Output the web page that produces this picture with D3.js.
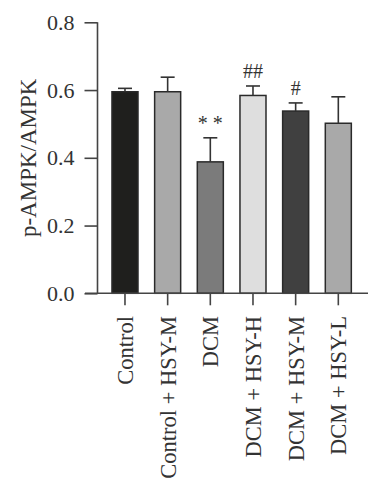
<!DOCTYPE html>
<html><head><meta charset="utf-8">
<script src="https://cdn.jsdelivr.net/npm/d3@7"></script>
<style>body{margin:0;background:#fff}</style>
</head><body>
<svg id="c" width="382" height="500"></svg>
<script>
const categories = ["Control","Control + HSY-M","DCM","DCM + HSY-H","DCM + HSY-M","DCM + HSY-L"];
const means = [0.595,0.595,0.388,0.584,0.538,0.502];
const errors = [0.010,0.043,0.071,0.028,0.024,0.078];
const marks = ["","","* *","##","#",""];
const colors = ["#1f1f1d","#a9a9a9","#7b7b7b","#dedede","#404040","#a9a9a9"];
const yTicks = [0.0,0.2,0.4,0.6,0.8];

const svg = d3.select("#c");
const font = "'Liberation Serif','Times New Roman',serif";
const x0 = 97.5, x1 = 368, yTop = 22.3, yBot = 293.3;
const x = d3.scaleBand().domain(categories).range([103.65, 359.65]).paddingInner(0.39).paddingOuter(0.195);
const y = d3.scaleLinear().domain([0,0.8]).range([yBot,yTop]);

// bars
const g = svg.append("g");
g.selectAll("rect").data(categories).join("rect")
  .attr("x", d=>x(d)).attr("width", x.bandwidth())
  .attr("y", (d,i)=>y(means[i])).attr("height",(d,i)=>y(0)-y(means[i]))
  .attr("fill",(d,i)=>colors[i]).attr("stroke","#2a2a2a").attr("stroke-width",1.5);

// error bars
const cap = 14;
categories.forEach((c,i)=>{
  const cx = x(c)+x.bandwidth()/2;
  g.append("line").attr("x1",cx).attr("x2",cx).attr("y1",y(means[i])).attr("y2",y(means[i]+errors[i]))
    .attr("stroke","#333").attr("stroke-width",1.6);
  g.append("line").attr("x1",cx-cap/2).attr("x2",cx+cap/2).attr("y1",y(means[i]+errors[i])).attr("y2",y(means[i]+errors[i]))
    .attr("stroke","#333").attr("stroke-width",1.6);
  if (marks[i]) {
    g.append("text").attr("x",cx).attr("y",y(means[i]+errors[i])-8)
      .attr("text-anchor","middle").attr("font-family",font).attr("font-size",20).attr("fill","#333")
      .text(marks[i]);
  }
});

// y axis
const ya = svg.append("g").attr("transform",`translate(${x0},0)`)
  .call(d3.axisLeft(y).tickValues(yTicks).tickFormat(d3.format(".1f")).tickSize(13).tickPadding(10));
ya.select(".domain").attr("d",`M0,${yTop}V${yBot}`).attr("stroke","#444").attr("stroke-width",1.6);
ya.selectAll(".tick line").attr("stroke","#444").attr("stroke-width",1.6);
ya.selectAll("text").attr("font-family",font).attr("font-size",22).attr("fill","#333");

// x axis
const xa = svg.append("g").attr("transform",`translate(0,${yBot})`)
  .call(d3.axisBottom(x).tickSize(12).tickFormat(""));
xa.select(".domain").attr("d",`M85,0H${x1}`).attr("stroke","#444").attr("stroke-width",1.6);
xa.selectAll(".tick line").attr("stroke","#444").attr("stroke-width",1.6);

svg.append("g").selectAll("text").data(categories).join("text")
  .attr("transform", d=>`translate(${x(d)+x.bandwidth()/2},316) rotate(-90)`)
  .attr("text-anchor","end").attr("dy","0.35em")
  .attr("font-family",font).attr("font-size",22.5).attr("fill","#333")
  .text(d=>d);

// y label
svg.append("text").attr("transform",`translate(27.5,${(yTop+yBot)/2}) rotate(-90)`)
  .attr("text-anchor","middle").attr("dy","0.35em")
  .attr("font-family",font).attr("font-size",23).attr("fill","#333")
  .text("p-AMPK/AMPK");
</script>
</body></html>
